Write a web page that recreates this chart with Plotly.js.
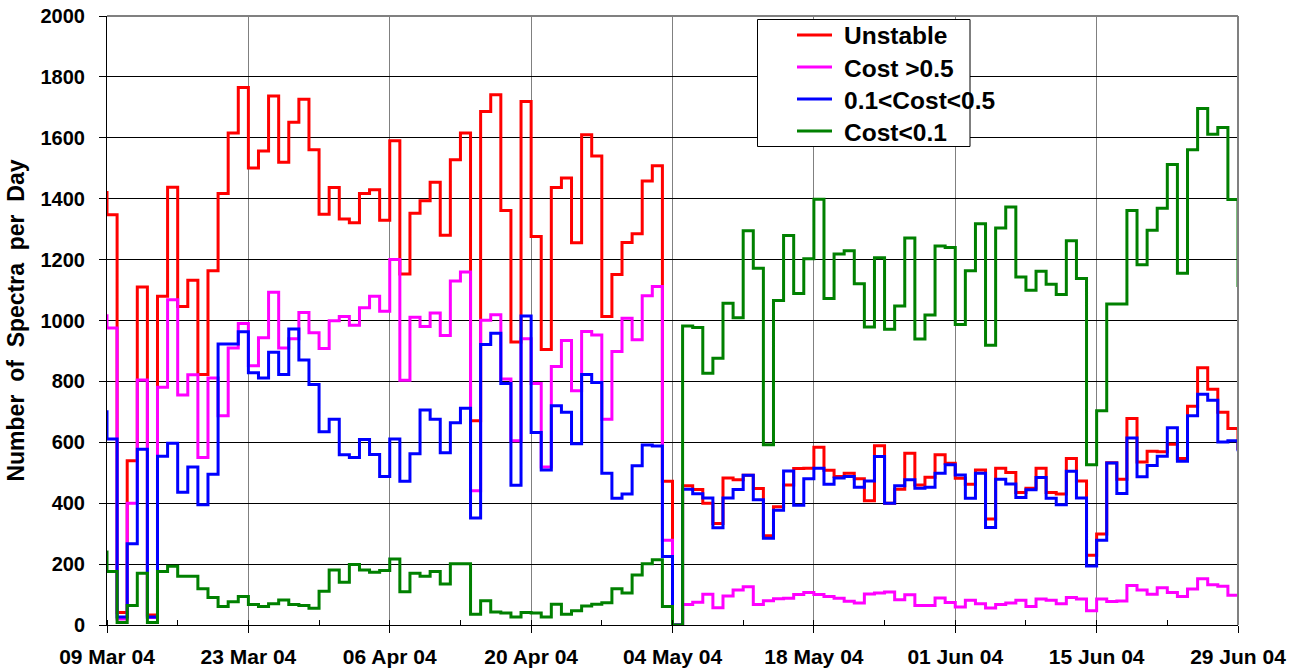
<!DOCTYPE html>
<html>
<head>
<meta charset="utf-8">
<script src="https://cdn.plot.ly/plotly-3.0.1.min.js"></script>
<style>
html,body{margin:0;padding:0;background:#fff;}
#chart{width:1301px;height:672px;}
</style>
</head>
<body>
<div id="chart"></div>
<script>
// First value is 08 Mar 04 (just before the axis start), last is 29 Jun 04
const startDate = '2004-03-08';
const seriesNames = ['Unstable', 'Cost >0.5', '0.1<Cost<0.5', 'Cost<0.1'];
const seriesColors = ['#FF0000', '#FF00FF', '#0000FF', '#008000'];

const unstable = [1420,1347,41,539,1110,33,1080,1438,1046,1132,823,1163,1417,1616,1765,1501,1557,1737,1520,1651,
  1727,1561,1349,1437,1333,1321,1417,1429,1329,1590,1153,1352,1393,1454,1280,1528,1616,671,1686,1741,
  1361,929,1719,1276,905,1437,1468,1255,1610,1540,1013,1151,1256,1285,1458,1508,472,0,457,445,
  400,333,483,477,492,448,293,388,460,514,515,584,508,488,498,480,408,589,400,446,
  564,460,485,559,531,482,462,509,348,515,501,435,449,515,435,430,547,473,229,299,
  533,479,678,535,571,569,594,547,718,845,774,699,645,575];

const costHigh = [1016,975,20,400,805,25,781,1068,755,822,550,811,687,910,990,851,943,1093,910,940,
  1026,960,908,999,1013,984,1042,1080,1030,1200,804,1011,980,1025,951,1130,1159,441,1001,1019,
  808,605,940,793,519,849,934,769,964,952,676,898,1007,937,1081,1112,278,0,67,75,
  101,57,95,115,126,67,80,86,88,100,107,100,94,88,78,72,102,105,108,83,
  99,64,64,89,74,59,81,70,56,67,72,81,61,85,81,70,90,85,47,85,
  77,79,130,115,101,122,107,94,118,152,132,127,98,96];

const costMid = [700,611,26,267,577,26,554,597,436,519,395,495,923,923,963,828,811,896,823,972,
  870,790,635,676,559,550,609,560,488,611,472,562,706,676,566,664,712,351,921,958,
  793,459,1015,632,509,720,699,595,823,796,498,416,430,523,591,588,225,0,446,431,
  417,319,417,445,492,411,285,377,506,393,480,515,462,483,488,452,473,553,400,457,
  477,449,452,498,526,493,416,498,320,479,463,419,444,484,416,395,505,417,194,278,
  532,432,614,487,524,554,648,538,687,758,738,601,605,571];

const costLow = [240,176,8,64,170,8,176,193,160,160,119,90,61,76,94,67,61,70,82,67,
  64,55,111,181,140,199,181,173,179,217,109,170,160,176,135,201,201,35,80,43,
  39,26,41,39,26,68,35,47,62,68,73,119,105,164,201,214,61,0,982,977,
  827,876,1057,1009,1295,1172,592,1066,1279,1089,1203,1398,1072,1218,1229,1121,979,1206,971,1048,
  1271,939,1018,1245,1240,987,1163,1318,919,1304,1373,1143,1099,1162,1119,1085,1262,1138,526,704,
  1054,1054,1361,1183,1296,1369,1512,1155,1561,1696,1612,1634,1397,1110];

const yTickVals = [0,200,400,600,800,1000,1200,1400,1600,1800,2000];

function dayList(start, n) {
  const out = [];
  const t0 = Date.parse(start + 'T00:00:00Z');
  for (let i = 0; i < n; i++) {
    const d = new Date(t0 + i * 86400000);
    out.push(d.toISOString().slice(0, 10));
  }
  return out;
}
const dates = dayList(startDate, unstable.length);

const allSeries = [unstable, costHigh, costMid, costLow];
const FONT = 'Arial, "Liberation Sans", sans-serif';

const traces = allSeries.map((vals, i) => ({
  x: dates,
  y: vals,
  type: 'scatter',
  mode: 'lines',
  name: seriesNames[i],
  line: {color: seriesColors[i], width: 3, shape: 'hv'},
  hoverinfo: 'x+y+name'
}));

// plot area in pixels (for placing the boxed legend)
const M = {l: 107, r: 63, t: 16, b: 47};
const W = 1301, H = 672;
const PW = W - M.l - M.r, PH = H - M.t - M.b;
const px = v => (v - M.l) / PW;
const py = v => (H - M.b - v) / PH;

const legBox = {x0: 757.5, x1: 970, y0: 19.5, y1: 146.5};
const legRowY = [35, 67, 99, 131];
const shapes = [
  {type: 'line', xref: 'paper', yref: 'paper', x0: 0, x1: 1, y0: 1, y1: 1, line: {color: '#808080', width: 2}},
  {type: 'line', xref: 'paper', yref: 'paper', x0: 1, x1: 1, y0: 0, y1: 1, line: {color: '#808080', width: 2}},
  {type: 'rect', xref: 'paper', yref: 'paper', x0: px(legBox.x0), x1: px(legBox.x1), y0: py(legBox.y1), y1: py(legBox.y0),
   line: {color: '#000000', width: 1}, fillcolor: '#ffffff', layer: 'above'}
];
const annotations = [];
seriesNames.forEach((nm, i) => {
  shapes.push({type: 'line', xref: 'paper', yref: 'paper', x0: px(797), x1: px(832), y0: py(legRowY[i]), y1: py(legRowY[i]),
    line: {color: seriesColors[i], width: 3}, layer: 'above'});
  annotations.push({xref: 'paper', yref: 'paper', x: px(842), y: py(legRowY[i] + 1), xanchor: 'left', yanchor: 'middle',
    text: nm, showarrow: false, font: {family: FONT, size: 24.5, weight: 'bold', color: '#000000'}});
});

const DAY = 86400000;
const layout = {
  width: W,
  height: H,
  margin: {l: M.l, r: M.r, t: M.t, b: M.b, pad: 0},
  paper_bgcolor: '#ffffff',
  plot_bgcolor: '#ffffff',
  font: {family: FONT, color: '#000000'},
  showlegend: false,
  xaxis: {
    type: 'date',
    range: ['2004-03-09', '2004-06-29'],
    tick0: '2004-03-09',
    dtick: 14 * DAY,
    tickformat: '%d %b %y',
    ticks: 'outside',
    ticklen: 7,
    tickwidth: 1,
    tickcolor: '#000000',
    ticklabelstandoff: 6,
    tickfont: {family: FONT, size: 21, weight: 'bold', color: '#000000'},
    showgrid: true,
    gridcolor: '#808080',
    gridwidth: 1,
    showline: true,
    linecolor: '#000000',
    linewidth: 1,
    zeroline: false,
    fixedrange: true,
    minor: {dtick: 7 * DAY, tick0: '2004-03-09', ticks: 'inside', ticklen: 5, tickcolor: '#000000', showgrid: false}
  },
  yaxis: {
    range: [0, 2000],
    tickvals: yTickVals,
    ticks: 'outside',
    ticklen: 7,
    tickcolor: '#000000',
    ticklabelstandoff: 10,
    tickfont: {family: FONT, size: 20, weight: 'bold', color: '#000000'},
    showgrid: true,
    gridcolor: '#000000',
    gridwidth: 1,
    showline: true,
    linecolor: '#000000',
    linewidth: 1,
    zeroline: false,
    fixedrange: true,
    title: {
      text: 'Number&nbsp;&nbsp;of&nbsp;&nbsp;Spectra&nbsp;&nbsp;per&nbsp;&nbsp;Day',
      font: {family: FONT, size: 23, weight: 'bold', color: '#000000'},
      standoff: 9
    }
  },
  shapes: shapes,
  annotations: annotations
};

Plotly.newPlot('chart', traces, layout, {displayModeBar: false, staticPlot: true});
</script>
</body>
</html>
